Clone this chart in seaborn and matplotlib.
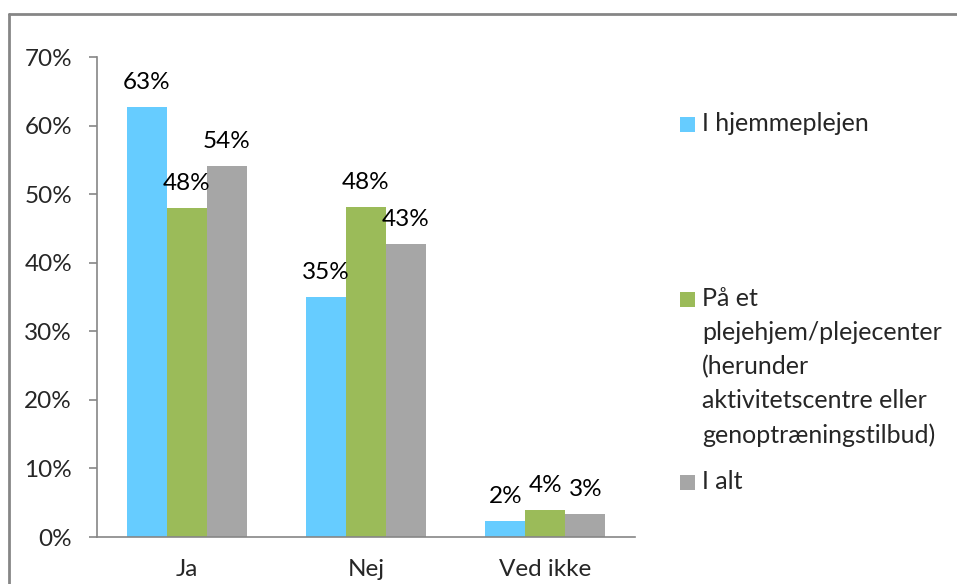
import pandas as pd
import matplotlib.pyplot as plt
import seaborn as sns
from matplotlib.lines import Line2D
from matplotlib.patches import Rectangle

sns.set_theme(style="white")
plt.rcParams['font.family'] = ['Lato', 'DejaVu Sans']

# Data (percent)
categories = ['Ja', 'Nej', 'Ved ikke']
series = ['I hjemmeplejen',
          'På et\nplejehjem/plejecenter\n(herunder\naktivitetscentre eller\ngenoptræningstilbud)',
          'I alt']
hjemmeplejen = [62.7, 35.0, 2.3]
plejehjem = [48.0, 48.1, 4.0]
i_alt = [54.1, 42.7, 3.3]
colors = ['#66CCFF', '#9BBB59', '#A6A6A6']

df = pd.DataFrame({
    'kategori': categories * 3,
    'serie': [series[0]] * 3 + [series[1]] * 3 + [series[2]] * 3,
    'andel': hjemmeplejen + plejehjem + i_alt,
})

FS = 17.5
W, H = 957, 584
fig = plt.figure(figsize=(W / 100, H / 100), dpi=100)
ax = fig.add_axes([97 / W, 47 / H, (635 - 97) / W, (537 - 57) / H])

sns.barplot(data=df, x='kategori', y='andel', hue='serie', order=categories,
            hue_order=series, palette=colors, width=0.67, gap=0,
            linewidth=0, saturation=1, legend=False, ax=ax)

for cont in ax.containers:
    ax.bar_label(cont, labels=[f"{v:.0f}%" for v in cont.datavalues],
                 padding=10, fontsize=FS, color='black')

ax.set_xlim(-0.5, 2.5)
ax.set_ylim(0, 70)
ax.set_yticks(range(0, 71, 10))
ax.set_yticklabels([f"{t}%" for t in range(0, 71, 10)], fontsize=FS)
ax.set_xticks(range(3))
ax.set_xticklabels(categories, fontsize=FS)
ax.set_xticks([-0.5, 0.5, 1.5, 2.5], minor=True)
ax.tick_params(axis='x', which='major', length=0, pad=16)
ax.tick_params(axis='x', which='minor', length=6, width=1.2, color='#868686', direction='out')
ax.tick_params(axis='y', length=6, width=1.2, color='#868686', direction='out', pad=12, left=True)
ax.set_xlabel('')
ax.set_ylabel('')
for s in ['top', 'right']:
    ax.spines[s].set_visible(False)
for s in ['left', 'bottom']:
    ax.spines[s].set_color('#868686')
    ax.spines[s].set_linewidth(1.2)

# Legend drawn by hand to keep Excel's uneven spacing
legend_y = [125, 300, 483]
for name, col, y in zip(series, colors, legend_y):
    fig.patches.append(Rectangle((680 / W, 1 - (y + 7) / H), 15 / W, 15 / H,
                                 transform=fig.transFigure, facecolor=col, edgecolor='none'))
    fig.text(702 / W, 1 - (y - 13) / H, name, fontsize=18, va='top', ha='left',
             linespacing=1.57)

# Outer chart frame (top and left edges visible)
fig.add_artist(Line2D([9 / W, 1], [1 - 14 / H, 1 - 14 / H], transform=fig.transFigure,
                      color='#868686', linewidth=2))
fig.add_artist(Line2D([9 / W, 9 / W], [0, 1 - 14 / H], transform=fig.transFigure,
                      color='#868686', linewidth=2))

fig.savefig('out.png', dpi=100)
